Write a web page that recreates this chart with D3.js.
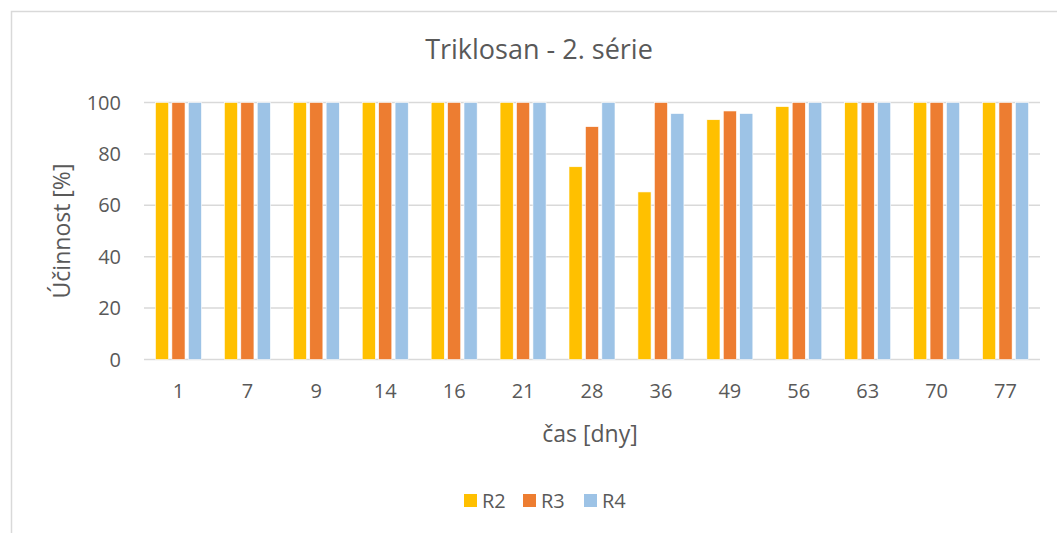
<!DOCTYPE html>
<html>
<head>
<meta charset="utf-8">
<script src="https://cdn.jsdelivr.net/npm/d3@7"></script>
<style>
  html, body { margin: 0; padding: 0; background: #fff; }
  svg { display: block; font-family: "Open Sans", sans-serif; }
</style>
</head>
<body>
<svg id="chart" width="1057" height="533"></svg>
<script>
var days = ["1", "7", "9", "14", "16", "21", "28", "36", "49", "56", "63", "70", "77"];
var r2 = [100, 100, 100, 100, 100, 100, 75, 65.2, 93.3, 98.4, 100, 100, 100];
var r3 = [100, 100, 100, 100, 100, 100, 90.6, 100, 96.7, 100, 100, 100, 100];
var r4 = [100, 100, 100, 100, 100, 100, 100, 95.7, 95.7, 100, 100, 100, 100];
var seriesNames = ["R2", "R3", "R4"];
var colors = ["#ffc000", "#ed7d31", "#9dc3e6"];
var yTicks = [0, 20, 40, 60, 80, 100];

var plotLeft = 144,
    plotRight = 1040,
    plotTop = 102.5,
    plotBottom = 359.5,
    textColor = "#595959",
    gridColor = "#d9d9d9";

var svg = d3.select("#chart");

// chart frame
svg.append("rect")
    .attr("x", 11.5)
    .attr("y", 11.5)
    .attr("width", 1060)
    .attr("height", 540)
    .attr("fill", "none")
    .attr("stroke", gridColor)
    .attr("stroke-width", 1.5);

var x = d3.scaleBand()
    .domain(days)
    .range([plotLeft, plotRight]);

var inner = d3.scaleBand()
    .domain(seriesNames)
    .range([0, 46])
    .paddingInner(0.2);

var y = d3.scaleLinear()
    .domain([0, 100])
    .range([plotBottom, plotTop]);

// gridlines
svg.append("g")
    .selectAll("line")
    .data(yTicks)
    .enter()
    .append("line")
    .attr("x1", plotLeft)
    .attr("x2", plotRight)
    .attr("y1", function (d) { return y(d); })
    .attr("y2", function (d) { return y(d); })
    .attr("stroke", gridColor)
    .attr("stroke-width", 1.5);

// y tick labels
svg.append("g")
    .selectAll("text")
    .data(yTicks)
    .enter()
    .append("text")
    .text(function (d) { return d; })
    .attr("x", 121)
    .attr("y", function (d) { return y(d); })
    .attr("dy", "0.35em")
    .attr("text-anchor", "end")
    .attr("fill", textColor)
    .attr("font-size", 20);

// bars
var data = [r2, r3, r4];
var groups = svg.append("g")
    .selectAll("g")
    .data(data)
    .enter()
    .append("g")
    .attr("fill", function (d, i) { return colors[i]; });

groups.selectAll("rect")
    .data(function (d, i) {
        return d.map(function (v, j) { return { s: seriesNames[i], day: days[j], v: v }; });
    })
    .enter()
    .append("rect")
    .attr("x", function (d) { return x(d.day) + (x.bandwidth() - 46) / 2 + inner(d.s); })
    .attr("width", inner.bandwidth())
    .attr("y", function (d) { return y(d.v); })
    .attr("height", function (d) { return y(0) - y(d.v); })
    .attr("stroke", "#fff")
    .attr("stroke-width", 0.6);

// x tick labels
svg.append("g")
    .selectAll("text")
    .data(days)
    .enter()
    .append("text")
    .text(function (d) { return d; })
    .attr("x", function (d) { return x(d) + x.bandwidth() / 2; })
    .attr("y", 398)
    .attr("text-anchor", "middle")
    .attr("fill", textColor)
    .attr("font-size", 20);

// title
svg.append("text")
    .text("Triklosan - 2. série")
    .attr("x", 539)
    .attr("y", 59)
    .attr("text-anchor", "middle")
    .attr("fill", textColor)
    .attr("font-size", 27);

// axis titles
svg.append("text")
    .text("čas [dny]")
    .attr("x", 590)
    .attr("y", 442)
    .attr("text-anchor", "middle")
    .attr("fill", textColor)
    .attr("font-size", 23);

svg.append("text")
    .text("Účinnost [%]")
    .attr("transform", "translate(70,231) rotate(-90)")
    .attr("text-anchor", "middle")
    .attr("fill", textColor)
    .attr("font-size", 23);

// legend
var legendX = [464, 523, 584];
var legend = svg.append("g")
    .selectAll("g")
    .data(seriesNames)
    .enter()
    .append("g")
    .attr("transform", function (d, i) { return "translate(" + legendX[i] + ",494)"; });

legend.append("rect")
    .attr("width", 13)
    .attr("height", 13)
    .attr("fill", function (d, i) { return colors[i]; });

legend.append("text")
    .text(function (d) { return d; })
    .attr("x", 18)
    .attr("y", 7)
    .attr("dy", "0.35em")
    .attr("fill", textColor)
    .attr("font-size", 20);
</script>
</body>
</html>
